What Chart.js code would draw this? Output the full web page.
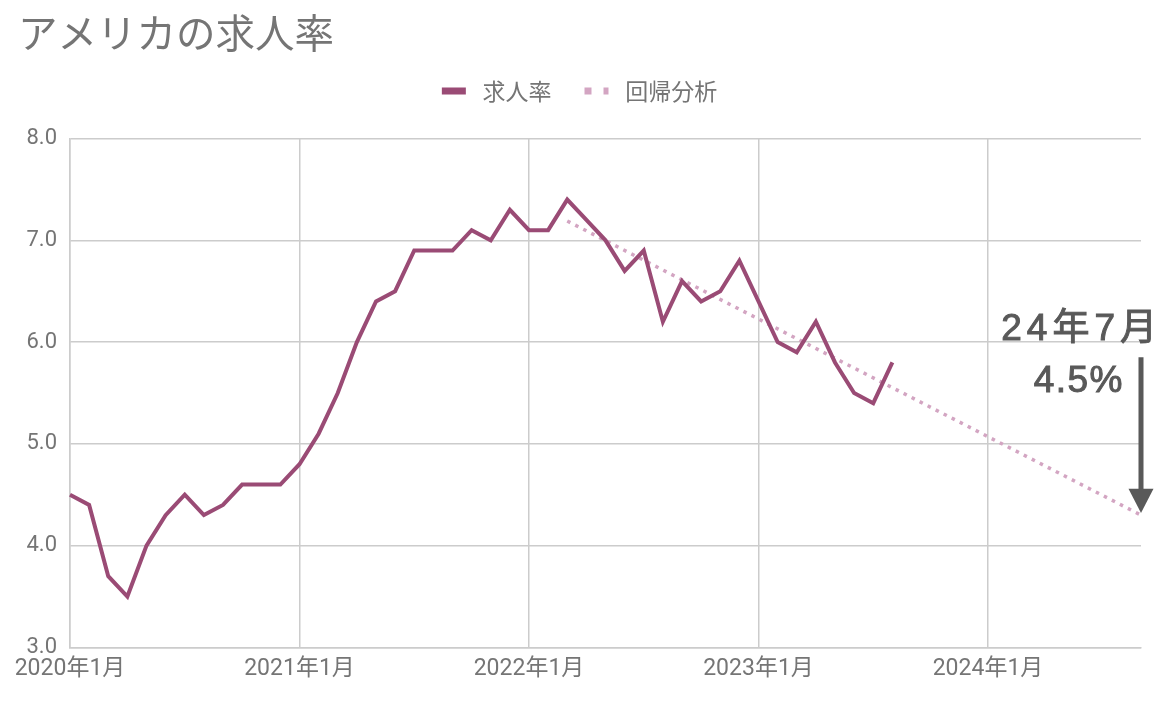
<!DOCTYPE html>
<html lang="ja">
<head>
<meta charset="utf-8">
<title>アメリカの求人率</title>
<script src="https://cdn.jsdelivr.net/npm/chart.js@4.4.1/dist/chart.umd.min.js"></script>
<style>
    html, body { margin: 0; padding: 0; background: #fff; }
</style>
</head>
<body>
<canvas id="job-openings" width="1162" height="708"></canvas>
<script>
// months from 2020年1月 to 2024年9月
const months = [];
for (let yr = 2020; yr <= 2024; yr++) {
    for (let m = 1; m <= 12; m++) {
        if (yr === 2024 && m > 9) break;
        months.push(yr + '年' + m + '月');
    }
}
const yearTicks = ['2020年1月', '2021年1月', '2022年1月', '2023年1月', '2024年1月'];

// 求人率 (%), 2020年1月 - 2023年8月
const openingRate = [
    4.5, 4.4, 3.7, 3.5, 4.0, 4.3, 4.5, 4.3, 4.4, 4.6, 4.6, 4.6,
    4.8, 5.1, 5.5, 6.0, 6.4, 6.5, 6.9, 6.9, 6.9, 7.1, 7.0, 7.3,
    7.1, 7.1, 7.4, 7.2, 7.0, 6.7, 6.9, 6.2, 6.6, 6.4, 6.5, 6.8,
    6.4, 6.0, 5.9, 6.2, 5.8, 5.5, 5.4, 5.8
];

// 回帰分析: trend line end points
const trendMonths = ['2022年3月', '2024年9月'];
const trendValues = [7.19, 4.3];

const calloutLines = ['24年7月', '4.5%'];

const grey = '#757575';
const fontStack = 'Roboto, "Noto Sans CJK JP", sans-serif';

// extra space under the legend
const legendGap = {
    id: 'legendGap',
    beforeInit(chart) {
        const fit = chart.legend.fit;
        chart.legend.fit = function () {
            fit.bind(chart.legend)();
            this.height += 26;
        };
    }
};

// the "24年7月 4.5%" note with the down arrow
const callout = {
    id: 'callout',
    afterDatasetsDraw(chart) {
        const { ctx, scales: { x, y } } = chart;
        const ax = x.getPixelForValue(months.length - 1);
        const top = y.getPixelForValue(5.85);
        const headBase = y.getPixelForValue(4.56);
        const tip = y.getPixelForValue(4.32);

        ctx.save();
        ctx.fillStyle = '#595959';
        ctx.strokeStyle = '#595959';
        ctx.font = '37px "Liberation Sans", Arial, "Noto Sans CJK JP", sans-serif';
        ctx.textAlign = 'right';
        ctx.textBaseline = 'alphabetic';
        ctx.lineWidth = 1;
        ctx.letterSpacing = '5px';
        ctx.fillText(calloutLines[0], ax + 21, y.getPixelForValue(6.0) - 2);
        ctx.strokeText(calloutLines[0], ax + 21, y.getPixelForValue(6.0) - 2);
        ctx.letterSpacing = '1.5px';
        ctx.fillText(calloutLines[1], ax - 17, y.getPixelForValue(5.5) - 1);
        ctx.strokeText(calloutLines[1], ax - 17, y.getPixelForValue(5.5) - 1);

        ctx.lineWidth = 5;
        ctx.beginPath();
        ctx.moveTo(ax, top);
        ctx.lineTo(ax, headBase + 1);
        ctx.stroke();

        ctx.beginPath();
        ctx.moveTo(ax - 12.5, headBase);
        ctx.lineTo(ax + 12.5, headBase);
        ctx.lineTo(ax, tip);
        ctx.closePath();
        ctx.fill();
        ctx.restore();
    }
};

const ctx = document.getElementById('job-openings');

new Chart(ctx, {
    type: 'line',
    data: {
        labels: months,
        datasets: [{
            label: '求人率',
            data: openingRate,
            borderColor: '#9a4b75',
            backgroundColor: '#9a4b75',
            borderWidth: 4,
            pointRadius: 0,
            tension: 0
        }, {
            label: '回帰分析',
            data: trendMonths.map((m, i) => ({ x: m, y: trendValues[i] })),
            borderColor: '#d3a5c2',
            backgroundColor: '#d3a5c2',
            borderWidth: 3.5,
            borderDash: [3.5, 5.5],
            pointRadius: 0,
            tension: 0
        }]
    },
    options: {
        responsive: false,
        animation: false,
        layout: {
            padding: { left: 18, right: 21, top: 0, bottom: 17 }
        },
        scales: {
            x: {
                offset: false,
                grid: {
                    drawTicks: false,
                    lineWidth: 1.5,
                    color: (c) => (c.index % 12 === 0 ? '#cccccc' : 'rgba(0,0,0,0)')
                },
                border: { color: '#cccccc', width: 1.5 },
                ticks: {
                    autoSkip: false,
                    maxRotation: 0,
                    padding: 8,
                    color: grey,
                    font: { family: fontStack, size: 23 },
                    callback: function (value) {
                        const label = this.getLabelForValue(value);
                        return yearTicks.includes(label) ? label : '';
                    }
                }
            },
            y: {
                min: 3,
                max: 8,
                afterFit: (scale) => { scale.width = 52; },
                grid: { drawTicks: false, lineWidth: 1.5, color: '#cccccc' },
                border: { color: '#cccccc', width: 1.5 },
                ticks: {
                    stepSize: 1,
                    padding: 13,
                    color: grey,
                    font: { family: fontStack, size: 22 },
                    callback: (v) => v.toFixed(1)
                }
            }
        },
        plugins: {
            title: {
                display: true,
                text: 'アメリカの求人率',
                align: 'start',
                color: grey,
                font: { family: '"Noto Sans CJK JP", sans-serif', size: 39.5, weight: 'normal', lineHeight: 0.85 },
                padding: { top: 16, bottom: -3 }
            },
            legend: {
                labels: {
                    usePointStyle: true,
                    pointStyleWidth: 24,
                    padding: 33,
                    color: grey,
                    font: { family: '"Noto Sans CJK JP", sans-serif', size: 23 },
                    generateLabels: (chart) => chart.data.datasets.map((ds, i) => ({
                        text: ' ' + ds.label,
                        fillStyle: ds.borderColor,
                        strokeStyle: ds.borderColor,
                        lineWidth: 7,
                        lineDash: i === 1 ? [7, 12] : [],
                        lineCap: 'butt',
                        pointStyle: 'line',
                        hidden: false,
                        datasetIndex: i,
                        fontColor: grey
                    }))
                }
            },
            tooltip: { enabled: false }
        }
    },
    plugins: [legendGap, callout]
});
</script>
</body>
</html>
